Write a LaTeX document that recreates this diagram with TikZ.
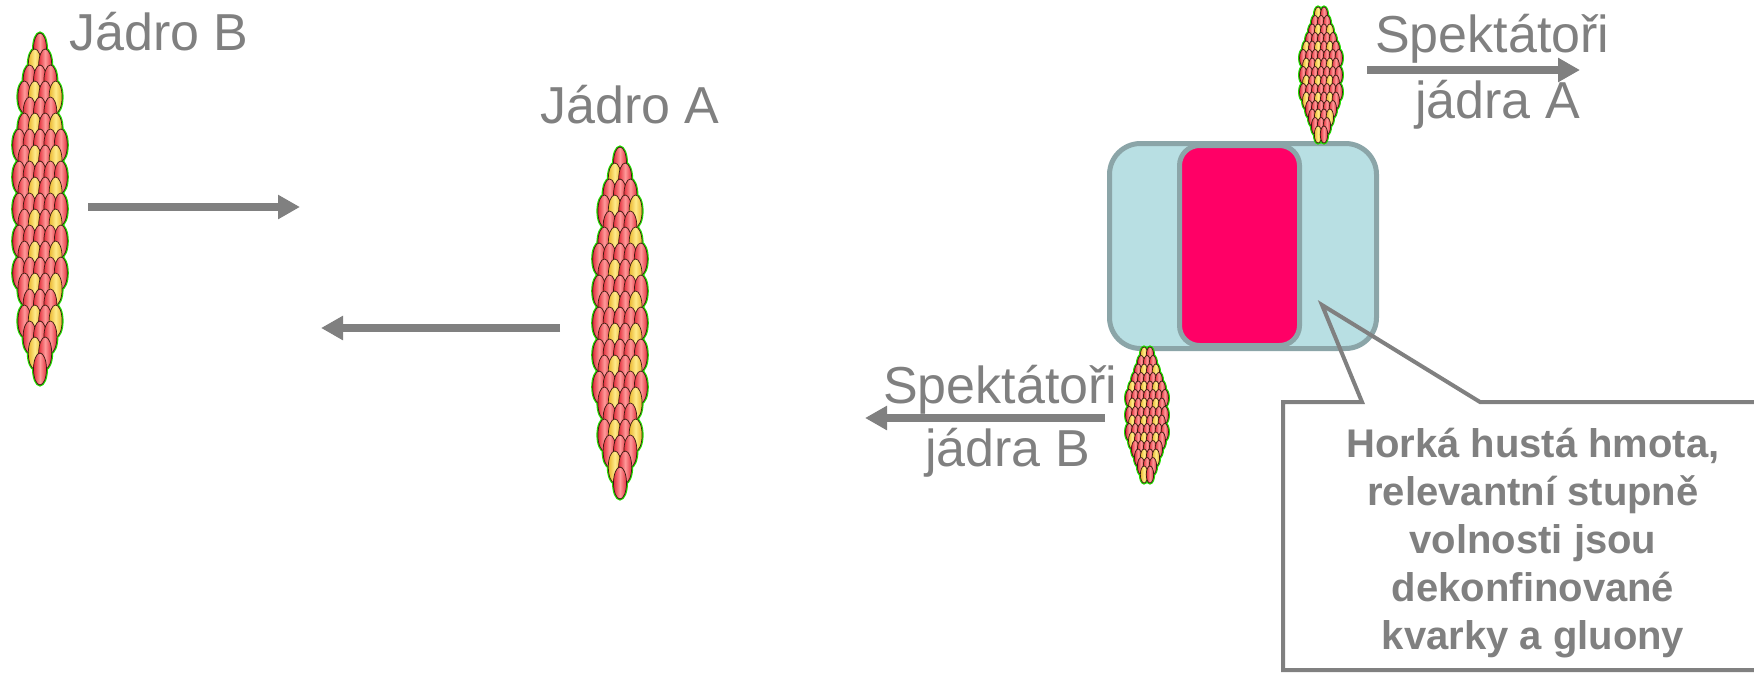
\documentclass[tikz,border=0pt]{standalone}
\usepackage{fontspec}
\setmainfont{Liberation Sans}
\usetikzlibrary{arrows.meta}

\definecolor{textgray}{HTML}{808080}
\definecolor{boxedge}{HTML}{8BA5A8}
\definecolor{boxfill}{HTML}{B8DFE3}
\definecolor{qgp}{HTML}{FF0066}
\definecolor{nred}{HTML}{E2303C}
\definecolor{nredhi}{HTML}{FF9A9A}
\definecolor{nyel}{HTML}{E9B52E}
\definecolor{nyelhi}{HTML}{FFEB8A}
\definecolor{nedge}{HTML}{3A1C12}
\definecolor{nrim}{HTML}{22DD00}

\tikzset{
  lbl/.style={font=\fontsize{52}{60}\selectfont, text=textgray, inner sep=0pt},
  flow/.style={draw=textgray, line width=8pt, -{Triangle[length=22pt,width=23pt]}},
  rim/.style={draw=nrim, line width=3pt},
  redN/.style={draw=nedge, line width=0.7pt, left color=nred, right color=nred, middle color=nredhi},
  yelN/.style={draw=nedge, line width=0.7pt, left color=nyel, right color=nyel, middle color=nyelhi},
}

% A flattened nucleus built from overlapping nucleons:
% #1 name, #2 #3 centre, #4 #5 half axes, #6 #7 nucleon radii
\newcommand\nucleus[7]{%
  \coordinate (#1) at (#2,#3);
  \pgfmathsetmacro\ndx{1.6*#6}%
  \pgfmathsetmacro\ndy{1.0*#7}%
  \pgfmathtruncatemacro\nni{ceil(#4/\ndx)+1}%
  \pgfmathtruncatemacro\nnj{ceil(#5/\ndy)+1}%
  \foreach \pass in {0,1}{%
    \foreach \j in {-\nnj,...,\nnj}{%
      \foreach \i in {-\nni,...,\nni}{%
        \pgfmathsetmacro\ox{(\i+0.5*mod(abs(\j),2))*\ndx}%
        \pgfmathsetmacro\oy{\j*\ndy}%
        \pgfmathtruncatemacro\inside{(\ox/(#4-0.55*#6))^2+(\oy/(#5-0.6*#7))^2<=1}%
        \pgfmathsetmacro\px{#2+\ox}%
        \pgfmathsetmacro\py{#3+\oy}%
        \ifnum\inside=1
          \ifnum\pass=0
            \path[rim] (\px,\py) ellipse[x radius=#6, y radius=#7];
          \else
            \pgfmathtruncatemacro\col{mod(abs(7*\i*\i+3*\j+5*\i*\j+11*\j*\j+\i),2)}%
            \ifnum\col=1
              \path[yelN] (\px,\py) ellipse[x radius=#6, y radius=#7];
            \else
              \path[redN] (\px,\py) ellipse[x radius=#6, y radius=#7];
            \fi
          \fi
        \fi
      }%
    }%
  }%
}

\begin{document}
\begin{tikzpicture}[x=1pt, y=-1pt]
\useasboundingbox (0,0) rectangle (1754,673);

% incoming nuclei
\nucleus{nucB}{40}{209}{27}{170}{6.5}{16}
\nucleus{nucA}{620}{323}{27}{170}{6.5}{16}

\node[lbl, anchor=base west] (jadroB) at (69,50) {Jádro B};
\node[lbl, anchor=base west] (jadroA) at (540,123) {Jádro A};

\coordinate (bTail) at (88,207);
\coordinate (bHead) at (300,207);
\coordinate (aTail) at (560,328);
\coordinate (aHead) at (321,328);
\draw[flow] (bTail) -- (bHead);
\draw[flow] (aTail) -- (aHead);

% collision zone with hot dense matter
\draw[draw=boxedge, fill=boxfill, line width=5pt, rounded corners=31pt]
  (1109.5,143.5) rectangle (1376.5,348.5);
\node[draw=boxedge, fill=qgp, line width=5pt, rounded corners=20pt,
      minimum width=120pt, minimum height=200pt, inner sep=0pt]
  (hot) at (1239.5,245.5) {};

% spectators flying away
\nucleus{specTop}{1321}{75}{21}{67}{3.7}{8.5}
\nucleus{specBot}{1147}{415}{21}{67}{3.7}{8.5}

\coordinate (sATail) at (1367,70);
\coordinate (sAHead) at (1580,70);
\coordinate (sBTail) at (1105,418);
\coordinate (sBHead) at (865,418);
\draw[flow] (sATail) -- (sAHead);
\draw[flow] (sBTail) -- (sBHead);

\node[lbl, anchor=base west] (specA1) at (1375,52) {Spektátoři};
\node[lbl, anchor=base west] (specA2) at (1415,118) {jádra A};
\node[lbl, anchor=base west] (specB1) at (883,403) {Spektátoři};
\node[lbl, anchor=base west] (specB2) at (925,466) {jádra B};

% callout
\coordinate (tip) at (1322,305);
\draw[draw=textgray, line width=4pt, line join=miter]
  (1283,402) -- (1362,402) -- (tip) -- (1480,402) -- (1780,402)
  -- (1780,670) -- (1283,670) -- cycle;
\node[font=\fontsize{40}{48}\selectfont\bfseries, text=textgray, align=center, inner sep=0pt]
  (note) at (1533,543) {Horká hustá hmota,\\relevantní stupně\\volnosti jsou\\dekonfinované\\kvarky a gluony};
\end{tikzpicture}
\end{document}
